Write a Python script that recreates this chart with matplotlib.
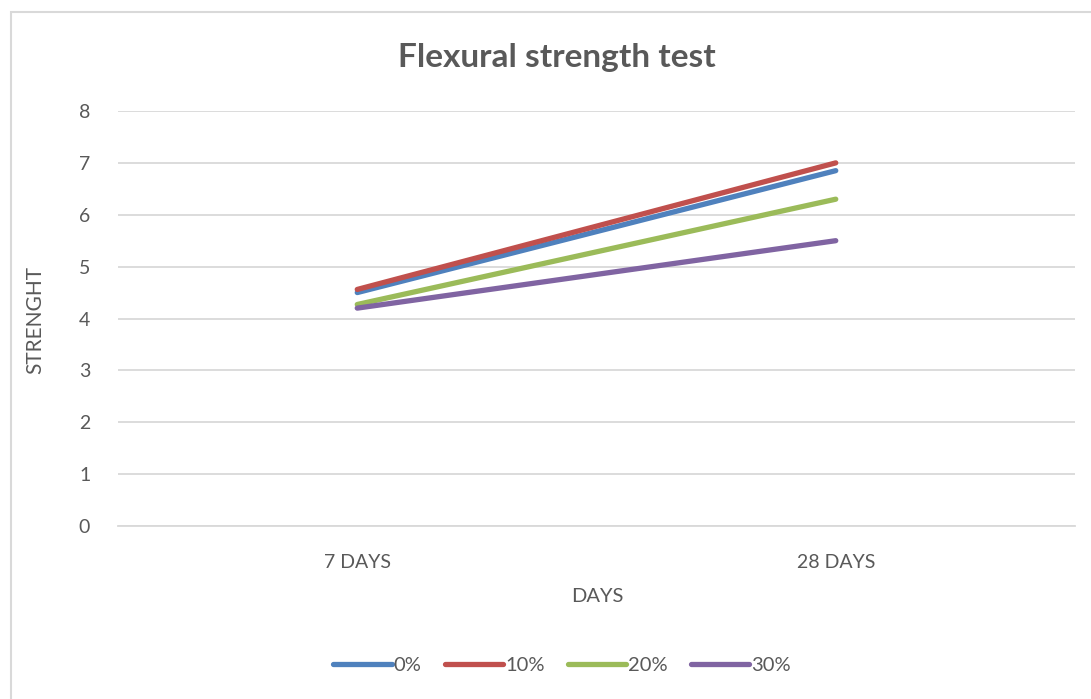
import matplotlib.pyplot as plt
from matplotlib.patches import Rectangle

plt.rcParams['font.family'] = ['Lato', 'DejaVu Sans']

categories = ["7 DAYS", "28 DAYS"]
series_names = ["0%", "10%", "20%", "30%"]
strength_0 = [4.50, 6.85]
strength_10 = [4.56, 7.00]
strength_20 = [4.27, 6.30]
strength_30 = [4.20, 5.50]
y_ticks = [0, 1, 2, 3, 4, 5, 6, 7, 8]

colors = ["#4F81BD", "#C0504D", "#9BBB59", "#8064A2"]
text_color = "#595959"
grid_color = "#D9D9D9"

W, H = 1091, 699
fig = plt.figure(figsize=(W / 100, H / 100), dpi=100)
fig.patch.set_facecolor("white")

# chart area border (left and top edges visible)
fig.patches.append(Rectangle((11 / W, -0.05), 1.2, 1 - 12 / H + 0.05,
                             transform=fig.transFigure, fill=False,
                             edgecolor=grid_color, linewidth=1.5))

ax = fig.add_axes([118 / W, 1 - 526 / H, (1075 - 118) / W, (526 - 111) / H])
x = [0, 1]
for vals, name, c in zip([strength_0, strength_10, strength_20, strength_30],
                         series_names, colors):
    ax.plot(x, vals, color=c, linewidth=3.8, solid_capstyle="round", label=name)

ax.set_xlim(-0.5, 1.5)
ax.set_ylim(0, 8)
ax.set_yticks(y_ticks)
ax.set_xticks(x)
ax.set_xticklabels(categories)
ax.grid(axis="y", color=grid_color, linewidth=1.3)
ax.set_axisbelow(True)
for s in ["left", "right", "top"]:
    ax.spines[s].set_visible(False)
ax.spines["bottom"].set_color(grid_color)
ax.spines["bottom"].set_linewidth(1.3)
ax.tick_params(axis="both", length=0, colors=text_color, labelsize=14)
ax.tick_params(axis="y", pad=20)
ax.tick_params(axis="x", pad=20)

fig.text(557 / W, 1 - 57 / H, "Flexural strength test", ha="center", va="center",
         fontsize=24, fontweight="bold", color=text_color)
fig.text(597 / W, 1 - 597 / H, "DAYS", ha="center", va="center",
         fontsize=14.5, color=text_color)
fig.text(35 / W, 1 - 320 / H, "STRENGHT", ha="center", va="center",
         rotation=90, fontsize=15, color=text_color)

leg = fig.legend(loc="center", bbox_to_anchor=(562 / W, 1 - 665 / H), ncol=4,
                 frameon=False, fontsize=14.5, handlelength=2.9, handletextpad=0.1,
                 columnspacing=1.15, labelcolor=text_color)

fig.savefig("out.png", dpi=100)
